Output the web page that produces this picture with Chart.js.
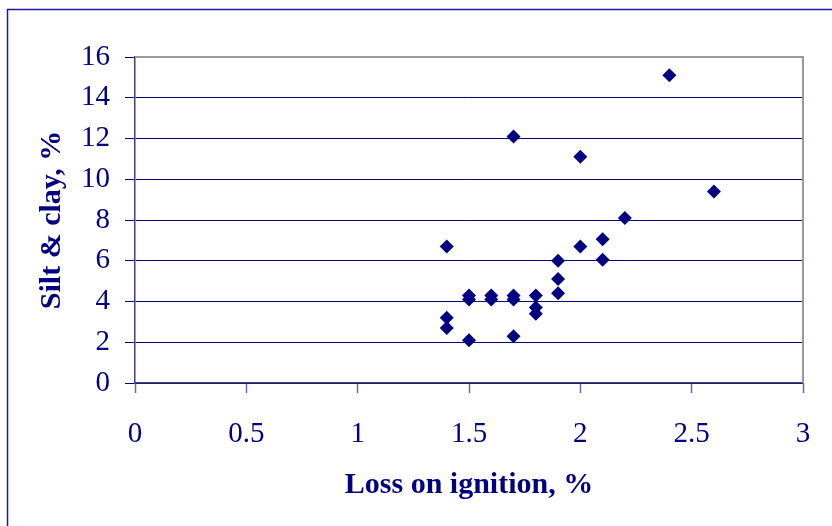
<!DOCTYPE html>
<html>
<head>
<meta charset="utf-8">
<script src="https://cdn.jsdelivr.net/npm/chart.js@4.4.1/dist/chart.umd.min.js"></script>
<style>
html,body{margin:0;padding:0;background:#fff;overflow:hidden;}
canvas{display:block;}
</style>
</head>
<body>
<canvas id="c" width="832" height="526"></canvas>
<script>
const lossOnIgnition = [1.4,1.4,1.4,1.5,1.5,1.5,1.6,1.6,1.7,1.7,1.7,1.7,1.8,1.8,1.8,1.9,1.9,1.9,2.0,2.0,2.1,2.1,2.2,2.4,2.6];
const siltClay      = [6.7,3.2,2.7,2.1,4.3,4.1,4.3,4.1,4.3,4.1,2.3,12.1,4.3,3.7,3.4,6.0,5.1,4.4,6.7,11.1,7.05,6.05,8.1,15.1,9.4];
const xTitle = "Loss on ignition, %";
const yTitle = "Silt & clay, %";

const points = lossOnIgnition.map((x, i) => ({x: x, y: siltClay[i]}));
const NAVY = '#000080';

const framePlugin = {
  id: 'frame',
  afterDraw(chart) {
    const ctx = chart.ctx, a = chart.chartArea;
    ctx.save();
    ctx.strokeStyle = '#999999';
    ctx.lineWidth = 2;
    ctx.beginPath();
    ctx.moveTo(a.left, a.top);
    ctx.lineTo(a.right, a.top);
    ctx.lineTo(a.right, a.bottom);
    ctx.stroke();
    ctx.strokeStyle = '#1a1aa0';
    ctx.lineWidth = 1.5;
    ctx.strokeRect(7.5, 9.5, 1000, 1000);
    ctx.restore();
  }
};

new Chart(document.getElementById('c'), {
  type: 'scatter',
  data: {
    datasets: [{
      data: points,
      pointStyle: 'rectRot',
      pointRadius: 7,
      pointHoverRadius: 7,
      backgroundColor: NAVY,
      borderColor: NAVY,
      borderWidth: 0
    }]
  },
  options: {
    responsive: false,
    animation: false,
    events: [],
    layout: { padding: { left: 0, top: 57, right: 29, bottom: 0 } },
    plugins: { legend: { display: false }, tooltip: { enabled: false } },
    scales: {
      x: {
        type: 'linear',
        min: 0, max: 3,
        afterFit(s) { s.height = 143; s.paddingLeft = 0; s.paddingRight = 0; },
        ticks: {
          stepSize: 0.5,
          color: NAVY,
          font: { family: '"Liberation Serif", "Times New Roman", serif', size: 29 },
          padding: 24,
          maxRotation: 0,
          callback: v => String(v)
        },
        grid: {
          drawOnChartArea: false,
          drawTicks: true,
          tickLength: 10,
          tickColor: '#6a6ab0',
          tickWidth: 1.5
        },
        border: { color: '#40407a', width: 1.5 },
        title: {
          display: true,
          text: xTitle,
          color: NAVY,
          font: { family: '"Liberation Serif", "Times New Roman", serif', size: 30, weight: 'bold' },
          padding: { top: 0, bottom: 23 }
        }
      },
      y: {
        type: 'linear',
        min: 0, max: 16,
        afterFit(s) { s.width = 135; s.paddingTop = 0; s.paddingBottom = 0; },
        ticks: {
          stepSize: 2,
          color: NAVY,
          font: { family: '"Liberation Serif", "Times New Roman", serif', size: 29 },
          padding: 15,
          callback: v => String(v)
        },
        grid: {
          color: NAVY,
          lineWidth: 1,
          drawTicks: true,
          tickLength: 10,
          tickColor: NAVY
        },
        border: { color: '#40407a', width: 1.5 },
        title: {
          display: true,
          text: yTitle,
          color: NAVY,
          font: { family: '"Liberation Serif", "Times New Roman", serif', size: 30, weight: 'bold' },
          padding: { top: 34, bottom: 0 }
        }
      }
    }
  },
  plugins: [framePlugin]
});
</script>
</body>
</html>
